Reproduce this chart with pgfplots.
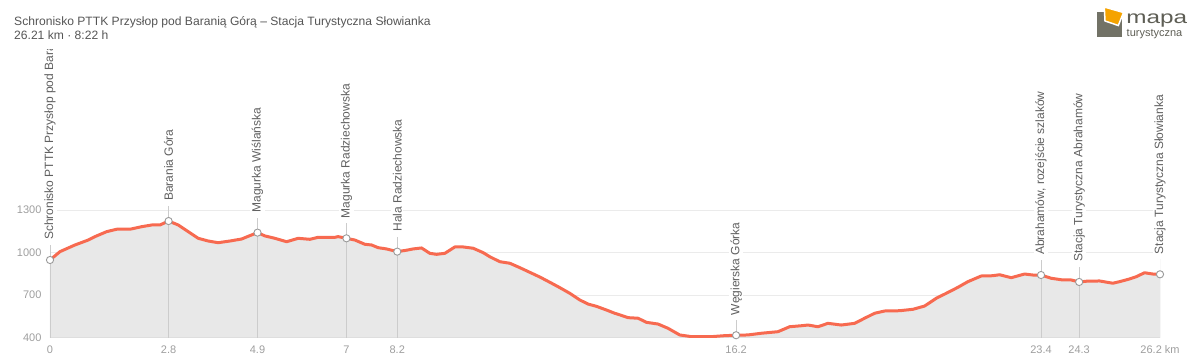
\documentclass[border=0pt]{standalone}
\usepackage{pgfplots}
\usepackage{pgfplotstable}
\pgfplotsset{compat=1.18}
\usepackage{fontspec}
\setmainfont{Liberation Sans}
\definecolor{linecol}{HTML}{F76A50}
\definecolor{areacol}{HTML}{E8E8E8}
\definecolor{gridcol}{HTML}{EBEBEB}
\definecolor{vcol}{HTML}{CCCCCC}
\definecolor{mkcol}{HTML}{9A9A9A}
\definecolor{tickcol}{HTML}{9E9E9E}
\definecolor{labcol}{HTML}{606060}
\definecolor{titcol}{HTML}{555555}
\definecolor{logogray}{HTML}{727266}
\definecolor{logotext}{HTML}{5E5E55}
\definecolor{logoorange}{HTML}{F5A300}

\pgfplotstableread{
x y
0 947
0.236 1006
0.590 1053
0.904 1088
1.062 1112
1.338 1147
1.574 1164
1.888 1164
2.164 1182
2.400 1194
2.596 1194
2.8 1222
3.028 1194
3.264 1147
3.500 1100
3.736 1081
3.972 1069
4.248 1081
4.524 1095
4.720 1119
4.9 1140
5.074 1117
5.310 1100
5.587 1076
5.860 1100
6.136 1093
6.332 1107
6.726 1107
6.804 1112
7.0 1100
7.198 1088
7.434 1058
7.592 1053
7.748 1034
7.947 1025
8.2 1006
8.419 1016
8.575 1025
8.773 1032
8.969 994
9.127 987
9.323 994
9.559 1039
9.755 1039
9.991 1030
10.227 999
10.385 970
10.621 935
10.857 924
11.093 893
11.329 860
11.565 827
11.801 790
12.037 752
12.273 712
12.509 665
12.705 636
12.903 620
13.139 594
13.335 571
13.453 560
13.649 540
13.885 536
14.083 507
14.357 495
14.593 465
14.869 418
15.145 406
15.617 406
15.931 413
16.2 416
16.481 418
16.797 430
17.189 441
17.465 476
17.741 483
17.897 488
18.133 476
18.369 500
18.685 488
19.000 500
19.235 536
19.471 571
19.707 587
20.061 589
20.375 599
20.651 622
20.928 677
21.163 712
21.437 754
21.673 794
21.988 834
22.263 836
22.421 843
22.697 822
23.011 848
23.207 841
23.4 841
23.641 818
23.915 806
24.113 806
24.3 792
24.467 797
24.782 799
25.096 783
25.254 794
25.490 813
25.648 829
25.844 857
26.040 848
26.21 846
}\profile

\pgfplotstableread[col sep=semicolon, row sep=\\]{
x;y;label\\
0;947;Schronisko PTTK Przysłop pod Baranią Górą\\
2.8;1222;Barania Góra\\
4.9;1140;Magurka Wiślańska\\
7.0;1100;Magurka Radziechowska\\
8.2;1006;Hala Radziechowska\\
16.2;416;Węgierska Górka\\
23.4;841;Abrahamów, rozejście szlaków\\
24.3;792;Stacja Turystyczna Abrahamów\\
26.21;846;Stacja Turystyczna Słowianka\\
}\wp

\begin{document}
\begin{tikzpicture}[x=1pt,y=1pt]
\useasboundingbox (0,0) rectangle (1200,362);
\begin{scope}
\clip (0,0) rectangle (1200,312);
\begin{axis}[
  at={(50pt,24.5pt)}, anchor=south west,
  scale only axis, width=1110pt, height=287.5pt,
  xmin=0, xmax=26.21, ymin=400, ymax=2429,
  axis line style={draw=none},
  major tick length=0pt,
  ytick={700,1000,1300},
  extra y ticks={400},
  extra y tick style={grid style={draw=vcol, line width=0.9pt}},
  xtick={0,2.8,4.9,7,8.2,16.2,23.4,24.3,26.21},
  xticklabels={0,2.8,4.9,7,8.2,16.2,23.4,24.3,26.2 km},
  ymajorgrids, grid style={draw=gridcol, line width=0.8pt},
  /pgf/number format/assume math mode=true,
  /pgf/number format/1000 sep={},
  ticklabel style={font=\fontsize{11}{13}\selectfont, text=tickcol},
  xticklabel style={yshift=-4.5pt},
  yticklabel style={xshift=-5pt},
  clip mode=individual,
]
\addplot[fill=areacol, draw=none] table[x=x,y=y]{\profile} \closedcycle;
\addplot[ycomb, draw=vcol, line width=0.9pt, mark=none] table[x=x, y expr=\thisrow{y}+105]{\wp};
\addplot[draw=linecol, line width=3pt, line join=round, line cap=round] table[x=x,y=y]{\profile};
\addplot[only marks, mark=*, mark size=3.6pt, mark options={fill=white, draw=mkcol, line width=0.9pt}] table[x=x,y=y]{\wp};
\addplot[draw=none, mark=none, nodes near coords, point meta=explicit symbolic,
  nodes near coords style={rotate=90, anchor=west, fill=white, inner xsep=5pt, inner ysep=1.5pt,
  font=\fontsize{12}{14}\selectfont, text=labcol}]
  table[x=x, y expr=\thisrow{y}+105, meta=label]{\wp};
\end{axis}
\end{scope}
\node[anchor=base west, inner sep=0pt, text=titcol, font=\fontsize{12.1}{15}\selectfont] at (14,336) {Schronisko PTTK Przysłop pod Baranią Górą – Stacja Turystyczna Słowianka};
\node[anchor=base west, inner sep=0pt, text=titcol, font=\fontsize{12.1}{15}\selectfont] at (14,322) {26.21 km · 8:22 h};
% logo
\fill[logogray] (1097,325) rectangle (1122,350);
\filldraw[fill=logoorange, draw=white, line width=1.5pt] (1104.3,355) -- (1123.5,349.5) -- (1118.3,336.5) -- (1105,341) -- cycle;
\node[anchor=base west, inner sep=0pt, text=logotext, font=\fontsize{18}{18}\selectfont, xscale=1.35] at (1126,338) {mapa};
\node[anchor=base west, inner sep=0pt, text=logotext, font=\fontsize{11}{11}\selectfont] at (1126.5,325.5) {turystyczna};
\end{tikzpicture}
\end{document}
